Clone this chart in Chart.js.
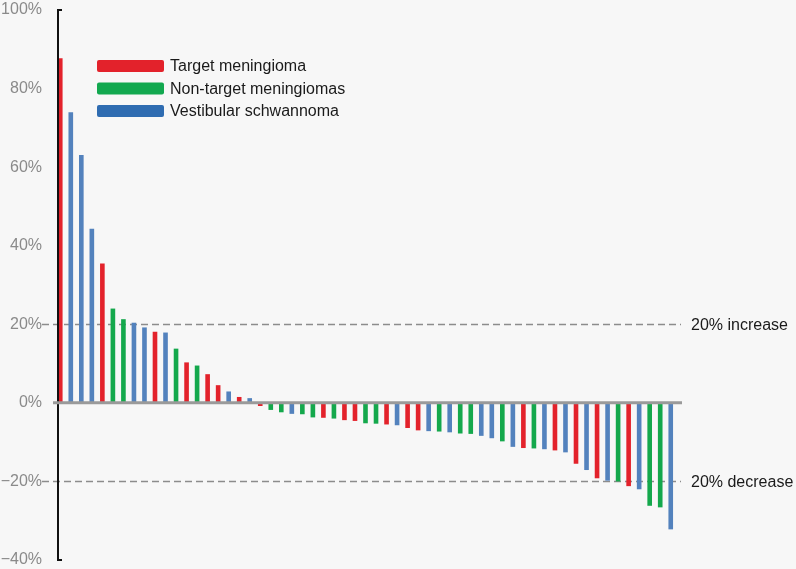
<!DOCTYPE html>
<html>
<head>
<meta charset="utf-8">
<script src="https://cdn.jsdelivr.net/npm/chart.js@4/dist/chart.umd.min.js"></script>
<style>
  html, body { margin: 0; padding: 0; background: #f7f7f7; }
  #wrap { width: 796px; height: 569px; }
</style>
</head>
<body>
<div id="wrap"><canvas id="c" width="796" height="569"></canvas></div>
<script>
// ---- data ----
const values = [87.7, 74.0, 63.1, 44.3, 35.5, 24.0, 21.3, 20.4, 19.2, 18.1, 17.9, 13.8, 10.3, 9.5, 7.3, 4.5, 2.9, 1.5, 1.2,
  -0.8, -1.8, -2.4, -2.8, -2.9, -3.7, -3.8, -4.0, -4.4, -4.6, -5.2, -5.3, -5.5, -5.7, -6.4, -7.0, -7.2, -7.3, -7.5, -7.8, -7.9,
  -8.4, -9.0, -9.8, -11.2, -11.5, -11.6, -11.8, -12.1, -12.6, -15.5, -17.1, -19.2, -19.8, -20.0, -21.2, -22.0, -26.2, -26.6, -32.2];
const groups = ['T','V','V','V','T','N','N','V','V','T','V','N','T','N','T','T','V','T','V',
  'T','N','N','V','N','N','T','N','T','T','N','N','T','V','T','T','V','N','V','N','N',
  'V','V','N','V','T','N','V','T','V','T','V','T','V','N','T','V','N','N','V'];
const categories = values.map((_, i) => 'Patient ' + (i + 1));
const seriesKeys = ['T', 'N', 'V'];
const seriesNames = ['Target meningioma', 'Non-target meningiomas', 'Vestibular schwannoma'];
const barColors = ['#e3222b', '#14a84c', '#5382bd'];
const legendColors = ['#e3222b', '#12a84f', '#2f6cb1'];
const yTicks = [100, 80, 60, 40, 20, 0, -20, -40];
const thresholds = [20, -20];
const thresholdLabels = ['20% increase', '20% decrease'];

const FONT = '"Liberation Sans", Arial, Helvetica, sans-serif';

const datasets = seriesKeys.map((k, si) => ({
  label: seriesNames[si],
  data: values.map((v, i) => groups[i] === k ? v : null),
  backgroundColor: barColors[si],
  borderWidth: 0,
  grouped: false,
  barPercentage: 0.44,
  categoryPercentage: 1.0
}));

const decor = {
  id: 'decor',
  beforeDatasetsDraw(chart) {
    const { ctx, chartArea, scales: { y } } = chart;
    ctx.save();
    ctx.strokeStyle = '#8c8c8c';
    ctx.lineWidth = 1.5;
    ctx.setLineDash([7, 4]);
    thresholds.forEach(t => {
      const py = Math.round(y.getPixelForValue(t)) + 0.5;
      ctx.beginPath();
      ctx.moveTo(chartArea.left - 13, py);
      ctx.lineTo(chartArea.right + 5, py);
      ctx.stroke();
    });
    ctx.restore();
  },
  afterDatasetsDraw(chart) {
    const { ctx, chartArea, scales: { y } } = chart;
    ctx.save();
    // y axis line with end serifs
    const ax = chartArea.left + 3;
    const top = y.getPixelForValue(y.max);
    const bot = y.getPixelForValue(y.min);
    ctx.strokeStyle = '#111';
    ctx.lineWidth = 2;
    ctx.beginPath();
    ctx.moveTo(ax + 4, top);
    ctx.lineTo(ax, top);
    ctx.lineTo(ax, bot);
    ctx.lineTo(ax + 4, bot);
    ctx.stroke();
    // zero line
    const z = y.getPixelForValue(0);
    ctx.strokeStyle = '#9a9a9a';
    ctx.lineWidth = 3;
    ctx.beginPath();
    ctx.moveTo(chartArea.left - 2, z);
    ctx.lineTo(chartArea.right + 6, z);
    ctx.stroke();
    // threshold labels
    ctx.fillStyle = '#1a1a1a';
    ctx.font = '16px ' + FONT;
    ctx.textBaseline = 'middle';
    ctx.textAlign = 'left';
    thresholds.forEach((t, i) => {
      ctx.fillText(thresholdLabels[i], chartArea.right + 15, y.getPixelForValue(t) + 1);
    });
    // legend
    const lx = 97, ly = 66, rowH = 22.5, sw = 67, sh = 12;
    seriesNames.forEach((name, i) => {
      const cy = ly + i * rowH;
      ctx.fillStyle = legendColors[i];
      ctx.beginPath();
      if (ctx.roundRect) ctx.roundRect(lx, cy - sh / 2, sw, sh, 2); else ctx.rect(lx, cy - sh / 2, sw, sh);
      ctx.fill();
      ctx.fillStyle = '#1a1a1a';
      ctx.fillText(name, lx + sw + 6, cy + 1);
    });
    ctx.restore();
  }
};

new Chart(document.getElementById('c'), {
  type: 'bar',
  data: { labels: categories, datasets },
  options: {
    responsive: false,
    animation: false,
    layout: { padding: { top: 10, bottom: 9, left: 0, right: 120 } },
    plugins: { legend: { display: false }, tooltip: { enabled: false } },
    scales: {
      x: { display: false, offset: true },
      y: {
        min: -40, max: 100,
        afterBuildTicks(scale) { scale.ticks = yTicks.map(v => ({ value: v })); },
        afterFit(scale) { scale.width = 55; scale.paddingTop = 0; scale.paddingBottom = 0; },
        grid: { display: false, drawTicks: false },
        border: { display: false },
        ticks: {
          padding: 13,
          color: '#8a8a8a',
          font: { family: FONT, size: 16 },
          callback: v => (v < 0 ? '\u2212' + Math.abs(v) : v) + '%'
        }
      }
    }
  },
  plugins: [decor]
});
</script>
</body>
</html>
